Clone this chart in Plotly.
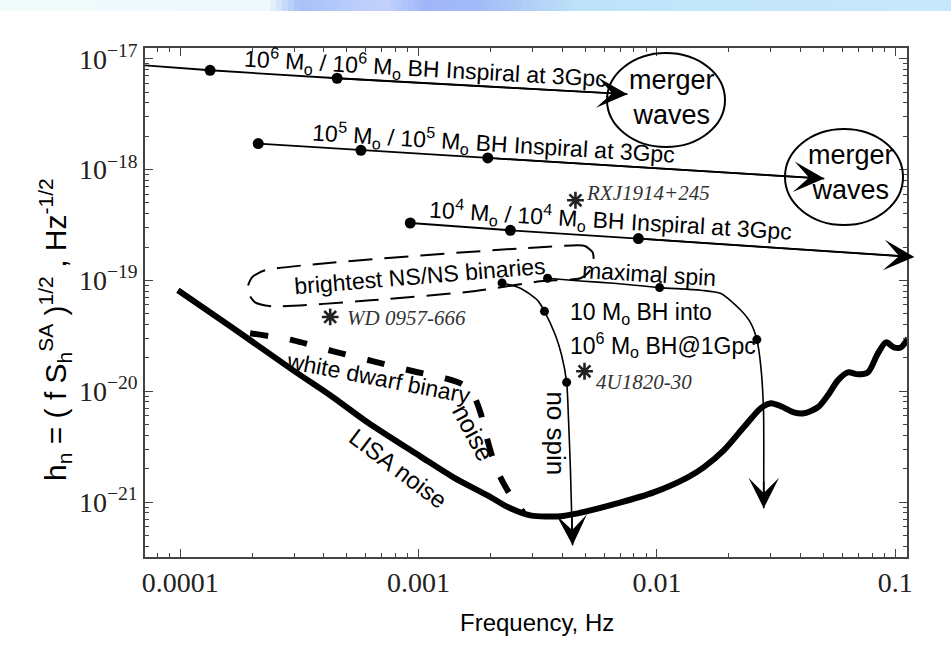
import numpy as np
import plotly.graph_objects as go

# ---------------- data (log10 of frequency [Hz] and of h_n) ----------------
lisa_logf = [-4.010, -3.778, -3.526, -3.358, -3.215, -2.993, -2.854, -2.711, -2.615, -2.531,
             -2.405, -2.333, -2.152, -2.014, -1.871, -1.804, -1.720, -1.636, -1.565, -1.522,
             -1.480, -1.426, -1.384, -1.325, -1.283, -1.241, -1.199, -1.157, -1.115, -1.073,
             -1.039, -1.006, -0.976, -0.947]
lisa_logh = [-19.089, -19.432, -19.812, -20.056, -20.280, -20.588, -20.777, -20.940, -21.057, -21.120,
             -21.129, -21.102, -21.003, -20.913, -20.777, -20.687, -20.534, -20.326, -20.154, -20.109,
             -20.136, -20.190, -20.199, -20.145, -20.037, -19.902, -19.830, -19.848, -19.830, -19.659,
             -19.559, -19.604, -19.604, -19.523]

wd_logf = [-3.707, -3.526, -3.358, -3.190, -3.022, -2.888, -2.816, -2.770, -2.741, -2.720,
           -2.690, -2.657, -2.606, -2.560]
wd_logh = [-19.477, -19.541, -19.640, -19.730, -19.820, -19.884, -19.938, -20.037, -20.190, -20.371,
           -20.596, -20.777, -20.967, -21.093]

ins6_logf = [-4.148, -3.875, -3.342, -2.124]
ins6_logh = [-17.059, -17.104, -17.176, -17.320]
ins6_dot_logf = [-3.875, -3.342]
ins6_dot_logh = [-17.104, -17.176]

ins5_logf = [-3.673, -3.242, -2.710, -1.298]
ins5_logh = [-17.765, -17.826, -17.895, -18.081]
ins5_dot_logf = [-3.673, -3.242, -2.710]
ins5_dot_logh = [-17.765, -17.826, -17.895]

ins4_logf = [-3.035, -2.615, -2.078, -0.920]
ins4_logh = [-18.482, -18.548, -18.623, -18.789]
ins4_dot_logf = [-3.035, -2.615, -2.078]
ins4_dot_logh = [-18.482, -18.548, -18.623]

nospin_logf = [-2.650, -2.573, -2.501, -2.472, -2.426, -2.400, -2.379, -2.371, -2.363, -2.358, -2.354]
nospin_logh = [-19.023, -19.071, -19.180, -19.279, -19.495, -19.676, -19.920, -20.263, -20.714, -21.102, -21.391]
nospin_dot_logf = [-2.650, -2.472, -2.379]
nospin_dot_logh = [-19.023, -19.279, -19.920]

maxspin_logf = [-2.459, -2.321, -2.182, -1.989, -1.816, -1.732, -1.648, -1.606, -1.581, -1.564,
                -1.553, -1.552, -1.552]
maxspin_logh = [-18.981, -19.005, -19.026, -19.065, -19.089, -19.119, -19.270, -19.387, -19.534, -19.782,
                -20.172, -20.804, -21.057]
maxspin_dot_logf = [-2.459, -1.989, -1.581]
maxspin_dot_logh = [-18.981, -19.065, -19.534]

nsns_logf = [-3.644, -2.333, -2.300, -2.270, -2.266, -2.287, -2.321, -2.489, -2.770, -3.203,
             -3.611, -3.686, -3.720, -3.699, -3.644]
nsns_logh = [-18.909, -18.683, -18.692, -18.746, -18.846, -18.927, -18.981, -19.008, -19.098, -19.180,
             -19.234, -19.198, -19.089, -18.972, -18.909]

star_names = ["WD 0957-666", "RXJ1914+245", "4U1820-30"]
star_logf = [-3.371, -2.342, -2.304]
star_logh = [-19.330, -18.277, -19.820]

x_tick_vals = [1e-4, 1e-3, 1e-2, 1e-1]
x_tick_text = ["0.0001", "0.001", "0.01", "0.1"]
y_tick_vals = [1e-21, 1e-20, 1e-19, 1e-18, 1e-17]
y_tick_text = ["10<sup>\u221221</sup>", "10<sup>\u221220</sup>", "10<sup>\u221219</sup>",
               "10<sup>\u221218</sup>", "10<sup>\u221217</sup>"]

# ---------------- styling ----------------
SANS = "Liberation Sans, Arial, sans-serif"
SERIF = "Liberation Serif, Times New Roman, serif"
W, H = 951, 648
ML, MR, MT, MB = 145, 44, 48, 91
XR = [-4.148, -0.951]
YR = [-21.496, -16.903]


def p(v):
    return 10 ** np.asarray(v, dtype=float)


fig = go.Figure()

# LISA noise
fig.add_trace(go.Scatter(x=p(lisa_logf), y=p(lisa_logh), mode="lines",
                         line=dict(color="black", width=6, shape="spline", smoothing=0.8),
                         hoverinfo="skip", showlegend=False))
# white dwarf binary noise
fig.add_trace(go.Scatter(x=p(wd_logf), y=p(wd_logh), mode="lines",
                         line=dict(color="black", width=6, dash="18px,22px", shape="spline", smoothing=0.8),
                         hoverinfo="skip", showlegend=False))
# NS/NS region
fig.add_trace(go.Scatter(x=p(nsns_logf), y=p(nsns_logh), mode="lines",
                         line=dict(color="black", width=2, dash="24px,12px", shape="spline", smoothing=0.6),
                         hoverinfo="skip", showlegend=False))

# inspiral tracks
for lf, lh, df, dh in [(ins6_logf, ins6_logh, ins6_dot_logf, ins6_dot_logh),
                       (ins5_logf, ins5_logh, ins5_dot_logf, ins5_dot_logh),
                       (ins4_logf, ins4_logh, ins4_dot_logf, ins4_dot_logh)]:
    fig.add_trace(go.Scatter(x=p(lf), y=p(lh), mode="lines", line=dict(color="black", width=1.8),
                             hoverinfo="skip", showlegend=False))
    fig.add_trace(go.Scatter(x=p(df), y=p(dh), mode="markers", marker=dict(color="black", size=11),
                             hoverinfo="skip", showlegend=False))

# EMRI tracks
for lf, lh, df, dh in [(nospin_logf, nospin_logh, nospin_dot_logf, nospin_dot_logh),
                       (maxspin_logf, maxspin_logh, maxspin_dot_logf, maxspin_dot_logh)]:
    fig.add_trace(go.Scatter(x=p(lf), y=p(lh), mode="lines",
                             line=dict(color="black", width=1.6, shape="spline", smoothing=0.7),
                             hoverinfo="skip", showlegend=False))
    fig.add_trace(go.Scatter(x=p(df), y=p(dh), mode="markers", marker=dict(color="black", size=9),
                             hoverinfo="skip", showlegend=False))

# sources
fig.add_trace(go.Scatter(x=p(star_logf), y=p(star_logh), mode="markers",
                         marker=dict(symbol="asterisk-open", size=14, color="#222",
                                     line=dict(color="#222", width=2.6)),
                         hoverinfo="skip", showlegend=False))

annotations = []


def txt(text, lf, lh, size=22, angle=0, xanchor="center", family=SANS, color="black"):
    annotations.append(dict(text=text, x=lf, y=lh, xref="x", yref="y", showarrow=False,
                            textangle=angle, xanchor=xanchor, yanchor="middle",
                            font=dict(family=family, size=size, color=color)))


def arrow(lf, lh):
    annotations.append(dict(text="", x=lf[-1], y=lh[-1], ax=lf[-2], ay=lh[-2],
                            xref="x", yref="y", axref="x", ayref="y", showarrow=True,
                            arrowhead=3, arrowsize=3.0, arrowwidth=1.7, arrowcolor="black",
                            standoff=0, startstandoff=0))


for lf, lh in [(ins6_logf, ins6_logh), (ins5_logf, ins5_logh), (ins4_logf, ins4_logh),
               (nospin_logf, nospin_logh), (maxspin_logf, maxspin_logh)]:
    arrow(lf, lh)

txt("10<sup>6</sup> M<sub>o</sub> / 10<sup>6</sup> M<sub>o</sub> BH Inspiral at 3Gpc", -2.972, -17.086, 23, 3.2)
txt("10<sup>5</sup> M<sub>o</sub> / 10<sup>5</sup> M<sub>o</sub> BH Inspiral at 3Gpc", -2.686, -17.763, 23, 3.5)
txt("10<sup>4</sup> M<sub>o</sub> / 10<sup>4</sup> M<sub>o</sub> BH Inspiral at 3Gpc", -2.195, -18.458, 23, 3.5)
txt("merger<br>waves", -1.938, -17.347, 27)
txt("merger<br>waves", -1.186, -18.024, 27)
txt("brightest NS/NS binaries", -2.993, -18.963, 23, -4.7)
txt("maximal spin", -2.035, -18.945, 23, 3.5)
txt("10 M<sub>o</sub> BH into", -2.375, -19.297, 23, 0, "left")
txt("10<sup>6</sup> M<sub>o</sub> BH@1Gpc", -2.375, -19.586, 23, 0, "left")
txt("white dwarf binary", -3.169, -19.884, 23, 11)
txt("noise", -2.770, -20.380, 25, 62)
txt("LISA noise", -3.085, -20.696, 24, 37)
txt("no spin", -2.424, -20.380, 26, 90)
for name, lf, lh in zip(star_names, star_logf, star_logh):
    off = {"WD 0957-666": (0.063, -0.012), "RXJ1914+245": (0.034, 0.063), "4U1820-30": (0.038, -0.100)}[name]
    txt("<i>%s</i>" % name, lf + off[0], lh + off[1], 21, 0, "left", SERIF, "#333")

# axis titles
annotations.append(dict(text="Frequency, Hz", xref="paper", yref="paper", x=(537 - ML) / 762,
                        y=(H - MB - 622) / 509, showarrow=False, xanchor="center", yanchor="middle",
                        font=dict(family=SANS, size=24, color="black")))
annotations.append(dict(text="h<sub>n</sub> = ( f S<sub>h</sub><sup>SA</sup> )<sup>1/2</sup> , Hz<sup>-1/2</sup>",
                        xref="paper", yref="paper", x=(55 - ML) / 762, y=(H - MB - 330) / 509,
                        showarrow=False, textangle=-90, xanchor="center", yanchor="middle",
                        font=dict(family=SANS, size=30, color="black")))

shapes = []
# merger-wave ellipses (paper coordinates of the plot area)
for (x0, x1, yt, yb) in [(607, 725, 53, 147), (785, 903, 129, 225)]:
    shapes.append(dict(type="circle", xref="paper", yref="paper",
                       x0=(x0 - ML) / 762, x1=(x1 - ML) / 762,
                       y0=(H - MB - yb) / 509, y1=(H - MB - yt) / 509,
                       line=dict(color="black", width=2)))

# slide header gradient strip
stops = [(0, (242, 252, 253)), (268, (238, 249, 252)), (300, (168, 192, 248)), (345, (184, 204, 251)),
         (385, (196, 210, 252)), (425, (160, 182, 248)), (480, (164, 188, 248)), (525, (176, 206, 246)),
         (580, (192, 226, 249)), (700, (196, 230, 251)), (951, (200, 232, 250))]
sx = [s[0] for s in stops]
step = 6
for xs in range(0, 951, step):
    c = [int(np.interp(xs + step / 2, sx, [s[1][k] for s in stops])) for k in range(3)]
    shapes.append(dict(type="rect", xref="paper", yref="paper", layer="below",
                       x0=(xs - ML) / 762, x1=(xs + step + 0.5 - ML) / 762,
                       y0=(H - MB - 11) / 509, y1=(H - MB) / 509,
                       line=dict(width=0), fillcolor="rgb(%d,%d,%d)" % tuple(c)))


def minor_vals(lo, hi):
    out = []
    for k in range(int(np.floor(lo)) - 1, int(np.ceil(hi)) + 1):
        for m in range(2, 10):
            v = m * 10.0 ** k
            if lo <= np.log10(v) <= hi:
                out.append(v)
    return out


axis_common = dict(type="log", ticks="inside", ticklen=8, tickwidth=1.2, tickcolor="#444",
                   showline=True, linecolor="#444", linewidth=1.5, mirror="ticks",
                   showgrid=False, zeroline=False)

fig.update_layout(
    width=W, height=H, margin=dict(l=ML, r=MR, t=MT, b=MB),
    paper_bgcolor="white", plot_bgcolor="white", showlegend=False,
    xaxis=dict(range=XR, tickvals=x_tick_vals, ticktext=x_tick_text,
               tickfont=dict(family=SERIF, size=28, color="#222"),
               minor=dict(tickvals=minor_vals(*XR), ticks="inside", ticklen=4, tickcolor="#444", showgrid=False),
               **axis_common),
    yaxis=dict(range=YR, tickvals=y_tick_vals, ticktext=y_tick_text,
               tickfont=dict(family=SERIF, size=28, color="#222"),
               minor=dict(tickvals=minor_vals(*YR), ticks="inside", ticklen=4, tickcolor="#444", showgrid=False),
               **axis_common),
    annotations=annotations, shapes=shapes,
)

fig.write_html("out.html", config={"displayModeBar": False},
               post_script="document.body.style.margin='0px';")
